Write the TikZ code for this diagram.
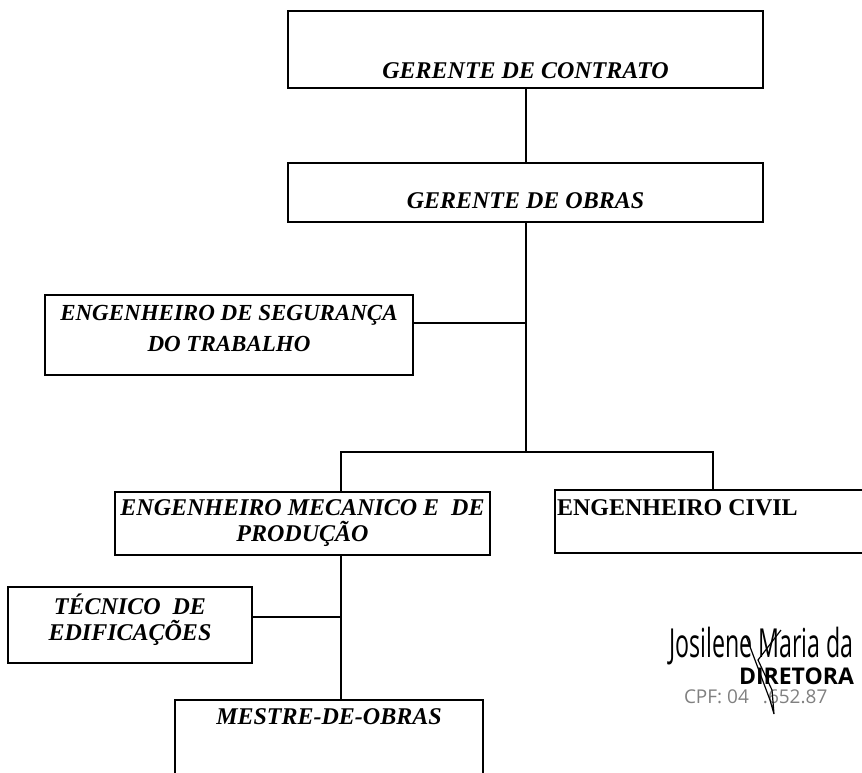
\documentclass[tikz,border=0pt]{standalone}
\usepackage{fontspec}
\setmainfont{Liberation Serif}
\newfontfamily\signame[FakeStretch=0.58]{Open Sans}
\newfontfamily\sigsans{Open Sans}

\begin{document}
\begin{tikzpicture}[x=1pt,y=-1pt,line width=2pt,
  box/.style={draw, rectangle, inner sep=0pt},
  lbl/.style={font=\fontsize{24}{27}\selectfont\bfseries\itshape, align=center, inner sep=0pt, anchor=center}]
\useasboundingbox (0,0) rectangle (862,772);

\node[box, minimum width=475, minimum height=77, label={[lbl, name=tcontrato, yshift=-21.5]center:GERENTE DE CONTRATO}] (contrato) at (525.5,49.5) {};
\node[box, minimum width=475, minimum height=59, label={[lbl, name=tobras, yshift=-8.5]center:GERENTE DE OBRAS}] (obras) at (525.5,192.5) {};
\node[box, minimum width=368, minimum height=80, label={[lbl, name=tseguranca, yshift=7, font=\fontsize{23}{31}\selectfont\bfseries\itshape]center:ENGENHEIRO DE SEGURANÇA\\DO TRABALHO}] (seguranca) at (229,335) {};
\node[box, minimum width=375, minimum height=63, label={[lbl, name=tmecanico, font=\fontsize{24}{26}\selectfont\bfseries\itshape]center:ENGENHEIRO MECANICO E~~DE\\PRODUÇÃO}] (mecanico) at (302.5,523.5) {};
\node[box, minimum width=244, minimum height=76, label={[lbl, name=ttecnico, yshift=5, font=\fontsize{24}{26}\selectfont\bfseries\itshape]center:TÉCNICO~~DE\\EDIFICAÇÕES}] (tecnico) at (130,625) {};

\begin{scope}
\clip (0,0) rectangle (862,772);
\node[box, minimum width=325, minimum height=63, label={[lbl, name=tcivil, anchor=west, xshift=2, yshift=13.5, font=\fontsize{24}{26}\selectfont\bfseries]west:ENGENHEIRO CIVIL}] (civil) at (717.5,521.5) {};
\node[box, minimum width=308, minimum height=100, label={[lbl, name=tmestre, yshift=-18]north:MESTRE-DE-OBRAS}] (mestre) at (329,750) {};

% assinatura
\node[font=\signame\fontsize{40}{40}\selectfont, anchor=west, inner sep=0pt] (signome) at (668,646) {Josilene Maria da};
\node[font=\sigsans\bfseries\fontsize{23}{23}\selectfont, anchor=west, inner sep=0pt] (sigcargo) at (738,676) {DIRETORA};
\node[font=\sigsans\fontsize{19}{19}\selectfont, text=gray, anchor=west, inner sep=0pt] (sigcpf) at (683,697) {CPF: 04\hspace{14pt}.652.87};
\draw[line width=1.2pt] (746,636) -- (770,700) -- (774,714) -- (772,690) -- (758,660) -- (781,630);
\end{scope}

\coordinate (jseg) at (obras.south |- 0,323);
\coordinate (split) at (obras.south |- 0,452);
\coordinate (jmec) at (341,452);
\coordinate (jciv) at (713,452);
\coordinate (jtec) at (341,617);

\draw (contrato.south) -- (obras.north);
\draw (obras.south) -- (split);
\draw (jseg) -- (jseg -| seguranca.east);
\draw (jmec |- mecanico.north) -- (jmec) -- (jciv) -- (jciv |- civil.north);
\draw (jmec |- mecanico.south) -- (jmec |- mestre.north);
\draw (jtec) -- (jtec -| tecnico.east);
\end{tikzpicture}
\end{document}
